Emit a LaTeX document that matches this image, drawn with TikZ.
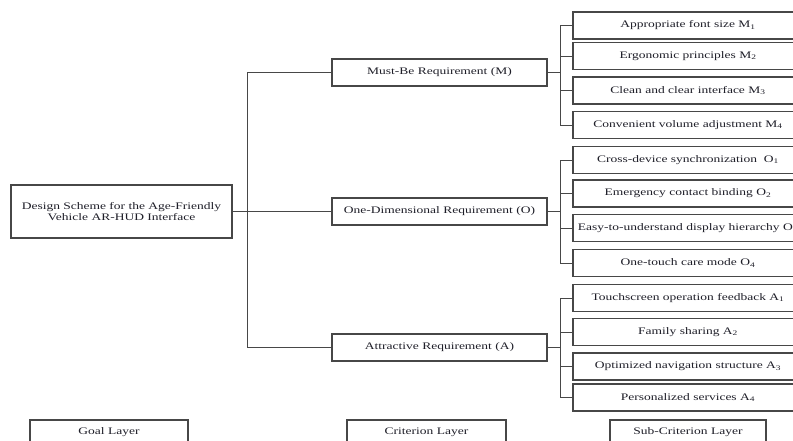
\documentclass[tikz,border=0pt]{standalone}
\usepackage{fontspec}
\setmainfont[FakeStretch=1.35]{Liberation Serif}
\definecolor{linecol}{gray}{0.28}
\definecolor{textcol}{RGB}{30,30,40}
\begin{document}
\begin{tikzpicture}[x=1pt,y=-1pt,
  box/.style={draw=linecol, line width=1.1pt, inner sep=0pt, text=textcol,
    font=\fontsize{10}{11}\selectfont, align=center},
  crit/.style={box, minimum width=215pt, minimum height=27pt},
  sub/.style={box, minimum width=230pt, minimum height=27pt},
  layer/.style={box, minimum height=24pt},
  conn/.style={draw=linecol, line width=0.9pt}]
\useasboundingbox (0,0) rectangle (793,441);
\clip (0,0) rectangle (793,441);

% goal
\node[box, minimum width=221pt, minimum height=53pt] (goal) at (121.5,211.5)
  {Design Scheme for the Age-Friendly\\Vehicle AR-HUD Interface};

% criteria
\node[crit] (cM) at (439.5,72.5) {Must-Be Requirement (M)};
\node[crit] (cO) at (439.5,211.5) {One-Dimensional Requirement (O)};
\node[crit] (cA) at (439.5,347.5) {Attractive Requirement (A)};

% sub-criteria
\node[sub] (m1) at (688,25.5) {Appropriate font size M\textsubscript{1}};
\node[sub] (m2) at (688,56) {Ergonomic principles M\textsubscript{2}};
\node[sub] (m3) at (688,90.5) {Clean and clear interface M\textsubscript{3}};
\node[sub] (m4) at (688,125) {Convenient volume adjustment M\textsubscript{4}};
\node[sub] (o1) at (688,160) {Cross-device synchronization\ \ O\textsubscript{1}};
\node[sub] (o2) at (688,193.5) {Emergency contact binding O\textsubscript{2}};
\node[sub] (o3) at (688,228) {Easy-to-understand display hierarchy O\textsubscript{3}};
\node[sub] (o4) at (688,263) {One-touch care mode O\textsubscript{4}};
\node[sub] (a1) at (688,298) {Touchscreen operation feedback A\textsubscript{1}};
\node[sub] (a2) at (688,332) {Family sharing A\textsubscript{2}};
\node[sub] (a3) at (688,366.5) {Optimized navigation structure A\textsubscript{3}};
\node[sub] (a4) at (688,397.5) {Personalized services A\textsubscript{4}};

% layer labels
\node[layer, minimum width=158pt] (lg) at (109,432) {Goal Layer};
\node[layer, minimum width=159pt] (lc) at (426.5,432) {Criterion Layer};
\node[layer, minimum width=156pt] (ls) at (688,432) {Sub-Criterion Layer};

% connectors goal -> criteria
\foreach \c in {cM,cO,cA}
  \draw[conn] (goal.east) -- ++(14.5,0) |- (\c.west);

% connectors criteria -> sub-criteria
\foreach \s in {m1,m2,m3,m4}
  \draw[conn] (cM.east) -- ++(13,0) |- (\s.west);
\foreach \s in {o1,o2,o3,o4}
  \draw[conn] (cO.east) -- ++(13,0) |- (\s.west);
\foreach \s in {a1,a2,a3,a4}
  \draw[conn] (cA.east) -- ++(13,0) |- (\s.west);
\end{tikzpicture}
\end{document}
